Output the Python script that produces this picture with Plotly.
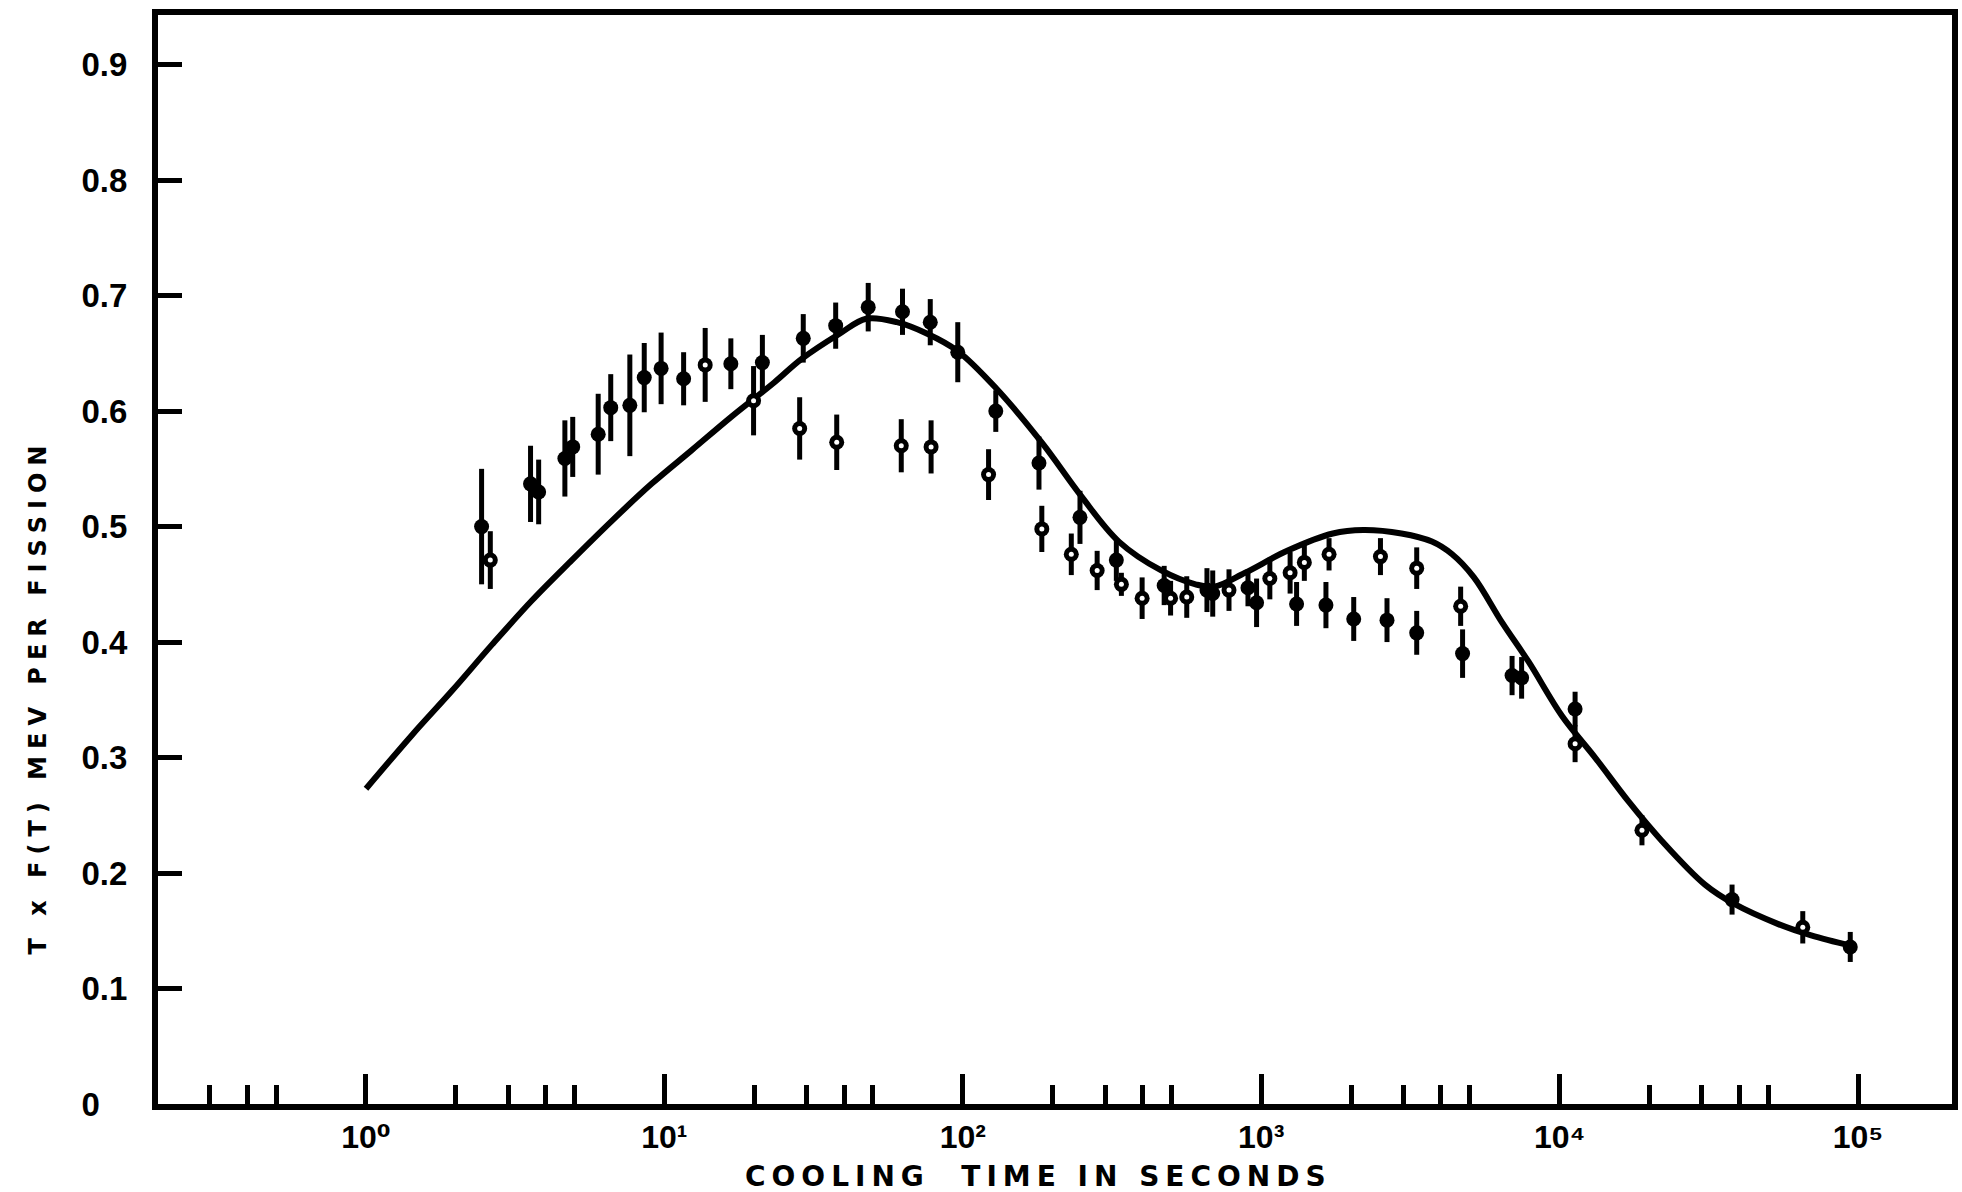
import plotly.graph_objects as go

# ---- data ----
curve_t = [1, 1.432, 1.945, 2.649, 3.597, 4.898, 6.668, 9.057, 12.33, 16.75, 23.39, 28.77,
           38.64, 47.42, 60.12, 76.03, 96.16, 129.1, 184.9, 248.3, 333.4, 462.4, 602.6,
           696.6, 883.1, 1222, 1738, 2198, 2951, 3733, 4365, 5164, 6412, 7870, 10190,
           13150, 17020, 21980, 30690, 38640, 53830, 69660, 94840]
curve_v = [0.273, 0.320, 0.358, 0.398, 0.436, 0.471, 0.505, 0.537, 0.566, 0.595, 0.625, 0.645,
           0.667, 0.680, 0.677, 0.667, 0.652, 0.620, 0.572, 0.527, 0.487, 0.462, 0.450,
           0.448, 0.460, 0.479, 0.494, 0.497, 0.494, 0.487, 0.476, 0.456, 0.417, 0.383, 0.336,
           0.300, 0.262, 0.228, 0.190, 0.173, 0.156, 0.146, 0.137]

filled_t = [2.44, 3.56, 3.79, 4.64, 4.93, 6.0, 6.61, 7.66, 8.56, 9.75, 11.6, 16.7, 21.3, 29.2,
            37.5, 48.2, 62.8, 77.8, 96.2, 129, 180, 247, 327, 473, 658, 688, 903, 965, 1314,
            1648, 2042, 2640, 3320, 4730, 6930, 7460, 11270, 37840, 94200]
filled_v = [0.500, 0.537, 0.530, 0.559, 0.569, 0.580, 0.603, 0.605, 0.629, 0.637, 0.628, 0.641,
            0.642, 0.663, 0.674, 0.690, 0.686, 0.677, 0.651, 0.600, 0.555, 0.508, 0.471, 0.449,
            0.445, 0.442, 0.447, 0.434, 0.433, 0.432, 0.420, 0.419, 0.408, 0.390, 0.371, 0.369,
            0.342, 0.177, 0.136]
filled_err = [0.050, 0.033, 0.028, 0.033, 0.026, 0.035, 0.029, 0.044, 0.030, 0.031, 0.023, 0.022,
              0.024, 0.021, 0.020, 0.021, 0.020, 0.020, 0.026, 0.018, 0.023, 0.023, 0.018, 0.017,
              0.019, 0.020, 0.016, 0.021, 0.019, 0.020, 0.019, 0.019, 0.019, 0.021, 0.017, 0.018,
              0.015, 0.013, 0.013]

open_t = [2.61, 13.7, 19.9, 28.4, 37.8, 62.2, 78.3, 122, 184, 231, 282, 340, 399, 497, 563, 780,
          1069, 1250, 1395, 1688, 2510, 3320, 4660, 11270, 18880, 65300]
open_v = [0.471, 0.640, 0.609, 0.585, 0.573, 0.570, 0.569, 0.545, 0.498, 0.476, 0.462, 0.450,
          0.438, 0.438, 0.439, 0.445, 0.455, 0.460, 0.469, 0.476, 0.474, 0.464, 0.431, 0.312,
          0.237, 0.153]
open_err = [0.025, 0.032, 0.030, 0.027, 0.024, 0.023, 0.023, 0.022, 0.020, 0.018, 0.017, 0.010,
            0.018, 0.015, 0.018, 0.018, 0.018, 0.018, 0.016, 0.014, 0.016, 0.018, 0.017, 0.016,
            0.013, 0.014]

x_major = [1, 10, 100, 1000, 10000, 100000]
x_major_text = ["10\u2070", "10\u00b9", "10\u00b2", "10\u00b3", "10\u2074", "10\u2075"]
x_minor = [0.3, 0.4, 0.5, 2, 3, 4, 5, 20, 30, 40, 50, 200, 300, 400, 500,
           2000, 3000, 4000, 5000, 20000, 30000, 40000, 50000]
y_ticks = [0, 0.1, 0.2, 0.3, 0.4, 0.5, 0.6, 0.7, 0.8, 0.9]
y_text = ["0\u2008\u2007", "0.1", "0.2", "0.3", "0.4", "0.5", "0.6", "0.7", "0.8", "0.9"]

x_title = "COOLING  TIME IN SECONDS"
y_title = "T x F(T) MEV PER FISSION"

# ---- figure ----
fig = go.Figure()
fig.add_trace(go.Scatter(x=curve_t, y=curve_v, mode="lines",
                         line=dict(color="black", width=6, shape="spline", smoothing=1.0),
                         hoverinfo="skip"))
fig.add_trace(go.Scatter(x=filled_t, y=filled_v, mode="markers",
                         marker=dict(color="black", size=15, symbol="circle"),
                         error_y=dict(type="data", array=filled_err, color="black",
                                      thickness=5, width=0)))
fig.add_trace(go.Scatter(x=open_t, y=open_v, mode="markers",
                         marker=dict(color="black", size=15, symbol="circle"),
                         error_y=dict(type="data", array=open_err, color="black",
                                      thickness=5, width=0)))
fig.add_trace(go.Scatter(x=open_t, y=open_v, mode="markers",
                         marker=dict(color="white", size=5, symbol="circle")))

fig.update_layout(
    width=1962, height=1192,
    margin=dict(l=158, r=4, t=15, b=88),
    paper_bgcolor="white", plot_bgcolor="white",
    showlegend=False,
    font=dict(family="DejaVu Sans, sans-serif", color="black"),
    xaxis=dict(type="log", range=[-0.697, 5.315],
               tickmode="array", tickvals=x_major, ticktext=x_major_text,
               ticks="inside", ticklen=30, tickwidth=5, tickcolor="black",
               minor=dict(tickmode="array", tickvals=x_minor, ticks="inside",
                          ticklen=19, tickwidth=5, tickcolor="black", showgrid=False),
               showgrid=False, zeroline=False,
               showline=True, linecolor="black", linewidth=6, mirror=True,
               tickfont=dict(family="Liberation Sans, DejaVu Sans, sans-serif", size=32,
                             color="black", weight="bold"),
               ticklabelstandoff=0),
    yaxis=dict(range=[0, 0.943],
               tickmode="array", tickvals=y_ticks, ticktext=y_text,
               ticks="inside", ticklen=24, tickwidth=5, tickcolor="black",
               showgrid=False, zeroline=False,
               showline=True, linecolor="black", linewidth=6, mirror=True,
               tickfont=dict(family="Liberation Sans, DejaVu Sans, sans-serif", size=33,
                             color="black", weight="bold"),
               ticklabelstandoff=18),
    annotations=[
        dict(text=x_title, xref="paper", yref="paper", x=0.491, y=-0.0665,
             xanchor="center", yanchor="middle", showarrow=False,
             font=dict(family="DejaVu Sans, sans-serif", size=28, color="black",
                       weight="bold")),
        dict(text=y_title, xref="paper", yref="paper", x=-0.067, y=0.374,
             xanchor="center", yanchor="middle", showarrow=False, textangle=-90,
             font=dict(family="DejaVu Sans, sans-serif", size=24, color="black",
                       weight="bold")),
    ],
)

post = """
var gd = document.getElementById('{plot_id}');
function spaceOut(){
  gd.querySelectorAll('.annotation-text').forEach(function(t){
    var s = t.textContent || '';
    if (s.indexOf('COOLING') === 0) { t.style.letterSpacing = '6px'; }
    else if (s.indexOf('MEV') >= 0) { t.style.letterSpacing = '7px'; }
  });
}
spaceOut();
gd.on && gd.on('plotly_afterplot', spaceOut);
"""

fig.write_html("out.html", post_script=post)
